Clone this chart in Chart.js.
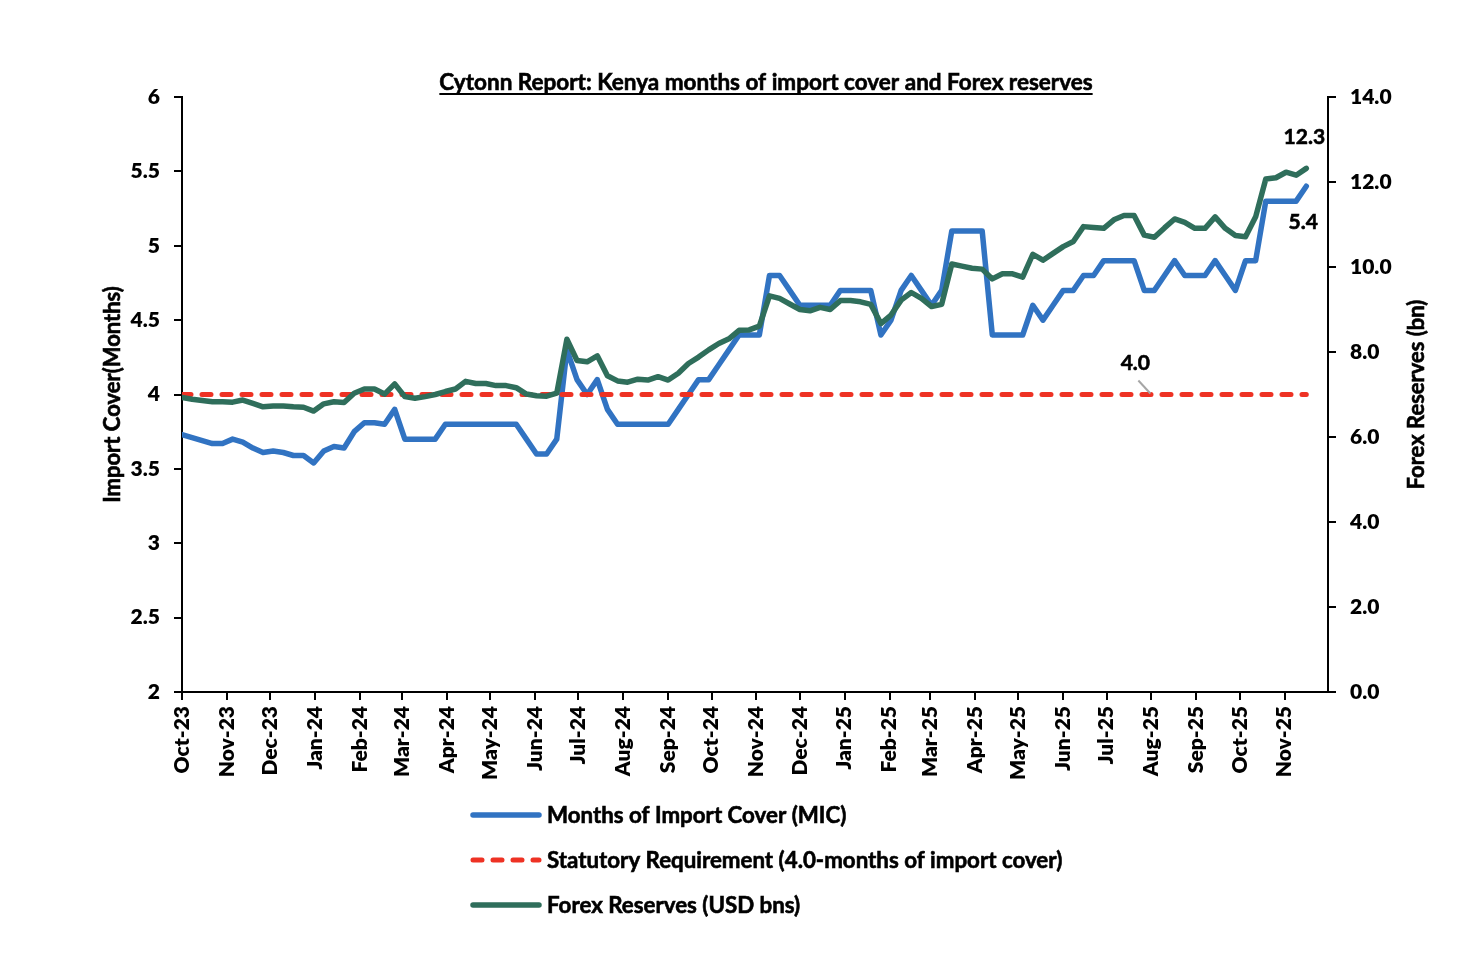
<!DOCTYPE html>
<html><head><meta charset="utf-8">
<script src="https://cdn.jsdelivr.net/npm/chart.js@4.4.1/dist/chart.umd.min.js"></script>
<style>html,body{margin:0;padding:0;background:#fff;}canvas{display:block;}</style>
</head><body>
<canvas id="c" width="1468" height="956"></canvas>
<script>
const weekDates = [
'2023-10-05','2023-10-12','2023-10-19','2023-10-26','2023-11-02','2023-11-09','2023-11-16','2023-11-23','2023-11-30',
'2023-12-07','2023-12-14','2023-12-21','2023-12-28',
'2024-01-04','2024-01-11','2024-01-18','2024-01-25','2024-02-01','2024-02-08','2024-02-15','2024-02-22','2024-02-29',
'2024-03-07','2024-03-14','2024-03-21','2024-03-28','2024-04-04','2024-04-11','2024-04-18','2024-04-25',
'2024-05-02','2024-05-09','2024-05-16','2024-05-23','2024-05-30','2024-06-06','2024-06-13','2024-06-20','2024-06-27',
'2024-07-04','2024-07-11','2024-07-18','2024-07-25','2024-08-01','2024-08-08','2024-08-15','2024-08-22','2024-08-29',
'2024-09-05','2024-09-12','2024-09-19','2024-09-26','2024-10-03','2024-10-10','2024-10-17','2024-10-24','2024-10-31',
'2024-11-07','2024-11-14','2024-11-21','2024-11-28','2024-12-05','2024-12-12','2024-12-19','2024-12-26',
'2025-01-02','2025-01-09','2025-01-16','2025-01-23','2025-01-30','2025-02-06','2025-02-13','2025-02-20','2025-02-27',
'2025-03-06','2025-03-13','2025-03-20','2025-03-27','2025-04-03','2025-04-10','2025-04-17','2025-04-24',
'2025-05-01','2025-05-08','2025-05-15','2025-05-22','2025-05-29','2025-06-05','2025-06-12','2025-06-19','2025-06-26',
'2025-07-03','2025-07-10','2025-07-17','2025-07-24','2025-07-31','2025-08-07','2025-08-14','2025-08-21','2025-08-28',
'2025-09-04','2025-09-11','2025-09-18','2025-09-25','2025-10-02','2025-10-09','2025-10-16','2025-10-23','2025-10-30',
'2025-11-06','2025-11-13','2025-11-20'
];
const micValues = [
3.73,3.71,3.69,3.67,3.67,3.70,3.68,3.64,3.61,3.62,3.61,3.59,3.59,3.54,3.62,3.65,3.64,3.75,3.81,3.81,
3.80,3.90,3.70,3.70,3.70,3.70,3.80,3.80,3.80,3.80,3.80,3.80,3.80,3.80,3.70,3.60,3.60,3.70,4.30,4.10,
4.00,4.10,3.90,3.80,3.80,3.80,3.80,3.80,3.80,3.90,4.00,4.10,4.10,4.20,4.30,4.40,4.40,4.40,4.80,4.80,
4.70,4.60,4.60,4.60,4.60,4.70,4.70,4.70,4.70,4.40,4.50,4.70,4.80,4.70,4.60,4.70,5.10,5.10,5.10,5.10,
4.40,4.40,4.40,4.40,4.60,4.50,4.60,4.70,4.70,4.80,4.80,4.90,4.90,4.90,4.90,4.70,4.70,4.80,4.90,4.80,
4.80,4.80,4.90,4.80,4.70,4.90,4.90,5.30,5.30,5.30,5.30,5.40
];
const statutoryValues = [
4,4,4,4,4,4,4,4,4,4,4,4,4,4,4,4,4,4,4,4,4,4,4,4,4,4,4,4,4,4,4,4,4,4,4,4,4,4,4,4,
4,4,4,4,4,4,4,4,4,4,4,4,4,4,4,4,4,4,4,4,4,4,4,4,4,4,4,4,4,4,4,4,4,4,4,4,4,4,4,4,
4,4,4,4,4,4,4,4,4,4,4,4,4,4,4,4,4,4,4,4,4,4,4,4,4,4,4,4,4,4,4,4
];
const forexValues = [
6.93,6.89,6.86,6.83,6.83,6.82,6.87,6.79,6.71,6.73,6.73,6.71,6.70,6.61,6.78,6.83,6.81,7.03,7.13,7.13,
7.01,7.25,6.95,6.91,6.95,7.00,7.07,7.13,7.31,7.26,7.26,7.21,7.21,7.16,7.01,6.97,6.96,7.03,8.30,7.80,
7.77,7.91,7.44,7.32,7.29,7.36,7.34,7.42,7.34,7.50,7.73,7.88,8.05,8.20,8.31,8.51,8.52,8.61,9.32,9.26,
9.13,9.00,8.97,9.05,9.00,9.21,9.21,9.18,9.12,8.67,8.87,9.22,9.40,9.26,9.07,9.12,10.07,10.02,9.97,9.95,
9.72,9.84,9.84,9.76,10.30,10.16,10.32,10.48,10.60,10.95,10.93,10.91,11.11,11.21,11.21,10.75,10.70,10.92,11.13,11.05,
10.91,10.91,11.18,10.91,10.74,10.71,11.18,12.07,12.10,12.23,12.16,12.32
];
const tickDates = ['2023-10-05','2023-11-05','2023-12-05','2024-01-05','2024-02-05','2024-03-05','2024-04-05','2024-05-05',
'2024-06-05','2024-07-05','2024-08-05','2024-09-05','2024-10-05','2024-11-05','2024-12-05','2025-01-05','2025-02-05',
'2025-03-05','2025-04-05','2025-05-05','2025-06-05','2025-07-05','2025-08-05','2025-09-05','2025-10-05','2025-11-05'];
const tickLabels = ['Oct-23','Nov-23','Dec-23','Jan-24','Feb-24','Mar-24','Apr-24','May-24','Jun-24','Jul-24','Aug-24',
'Sep-24','Oct-24','Nov-24','Dec-24','Jan-25','Feb-25','Mar-25','Apr-25','May-25','Jun-25','Jul-25','Aug-25','Sep-25',
'Oct-25','Nov-25'];
const axisEndDate = '2025-12-05';
const seriesNames = ['Months of Import Cover (MIC)','Statutory Requirement (4.0-months of import cover)','Forex Reserves (USD bns)'];
const chartTitle = 'Cytonn Report: Kenya months of import cover and Forex reserves';
const leftAxisTitle = 'Import Cover(Months)';
const rightAxisTitle = 'Forex Reserves (bn)';

const t0 = Date.parse(weekDates[0]);
const toDay = d => Math.round((Date.parse(d) - t0) / 86400000);
const pts = arr => arr.map((v, i) => ({x: toDay(weekDates[i]), y: v}));
const tickDays = tickDates.map(toDay);

const BLUE = '#3173C2', RED = '#EE3224', GREEN = '#2F6E5B';
const FONT = 'Lato';
Chart.defaults.font.family = FONT;
Chart.defaults.font.weight = 'bold';
Chart.defaults.color = '#000';

function heavyText(ctx, s, x, y) {
  ctx.lineWidth = 0.6; ctx.strokeStyle = '#000';
  ctx.strokeText(s, x, y); ctx.fillText(s, x, y);
}

const extras = {
  id: 'extras',
  afterDraw(chart) {
    const ctx = chart.ctx;
    const area = chart.chartArea;
    ctx.save();
    ctx.fillStyle = '#000';
    // title
    ctx.font = 'bold 22.5px ' + FONT;
    ctx.textAlign = 'center';
    ctx.textBaseline = 'alphabetic';
    const tx = 766, ty = 90;
    heavyText(ctx, chartTitle, tx, ty);
    const tw = ctx.measureText(chartTitle).width;
    ctx.strokeStyle = '#000'; ctx.lineWidth = 2;
    ctx.beginPath(); ctx.moveTo(tx - tw/2, ty + 4); ctx.lineTo(tx + tw/2, ty + 4); ctx.stroke();
    // axis titles
    ctx.font = 'bold 22px ' + FONT;
    ctx.textBaseline = 'middle';
    ctx.save(); ctx.translate(113, (area.top + area.bottom)/2); ctx.rotate(-Math.PI/2);
    heavyText(ctx, leftAxisTitle, 0, 0); ctx.restore();
    ctx.save(); ctx.translate(1417, (area.top + area.bottom)/2); ctx.rotate(-Math.PI/2);
    heavyText(ctx, rightAxisTitle, 0, 0); ctx.restore();
    // data labels
    ctx.font = 'bold 21px ' + FONT;
    const fx = chart.getDatasetMeta(2).data;
    const lastF = fx[fx.length - 1];
    heavyText(ctx, forexValues[forexValues.length-1].toFixed(1), lastF.x - 2, lastF.y - 31);
    const mx = chart.getDatasetMeta(0).data;
    const lastM = mx[mx.length - 1];
    heavyText(ctx, micValues[micValues.length-1].toFixed(1), lastM.x - 3, lastM.y + 36);
    const sx = chart.getDatasetMeta(1).data;
    const sp = sx[96];
    heavyText(ctx, statutoryValues[96].toFixed(1), sp.x - 19, sp.y - 31);
    ctx.strokeStyle = '#A6A6A6'; ctx.lineWidth = 2;
    ctx.beginPath(); ctx.moveTo(sp.x - 16, sp.y - 14); ctx.lineTo(sp.x - 4, sp.y - 1); ctx.stroke();
    // legend
    const ds = chart.data.datasets;
    const rows = [815, 860, 905];
    ctx.font = 'bold 22.3px ' + FONT;
    ctx.textAlign = 'left';
    ds.forEach((d, i) => {
      const y = rows[i];
      ctx.strokeStyle = d.borderColor; ctx.lineWidth = d.borderWidth;
      ctx.lineCap = 'round';
      ctx.setLineDash(d.borderDash || []);
      ctx.beginPath(); ctx.moveTo(473, y); ctx.lineTo(539, y); ctx.stroke();
      ctx.setLineDash([]);
      ctx.lineCap = 'butt';
      ctx.fillStyle = '#000';
      heavyText(ctx, d.label, 547, y + 1);
    });
    ctx.restore();
  }
};

new Chart(document.getElementById('c'), {
  type: 'line',
  data: {
    datasets: [
      {label: seriesNames[0], data: pts(micValues), yAxisID: 'yL', borderColor: BLUE, borderWidth: 5.5, pointRadius: 0, tension: 0, order: 3, borderJoinStyle: 'round', borderCapStyle: 'round'},
      {label: seriesNames[1], data: pts(statutoryValues), yAxisID: 'yL', borderColor: RED, borderWidth: 5, borderDash: [9, 11], borderCapStyle: 'round', pointRadius: 0, tension: 0, order: 2},
      {label: seriesNames[2], data: pts(forexValues), yAxisID: 'yR', borderColor: GREEN, borderWidth: 5.5, pointRadius: 0, tension: 0, order: 1, borderJoinStyle: 'round', borderCapStyle: 'round'}
    ]
  },
  options: {
    responsive: false,
    animation: false,
    devicePixelRatio: 1,
    layout: {padding: {top: 97, left: 0, right: 0, bottom: 0}},
    plugins: {legend: {display: false}, tooltip: {enabled: false}, title: {display: false}},
    scales: {
      x: {
        type: 'linear', min: 0, max: toDay(axisEndDate),
        afterBuildTicks: s => { s.ticks = tickDays.map(v => ({value: v})); },
        afterFit: s => { s.height = 264; },
        ticks: {autoSkip: false, maxRotation: 90, minRotation: 90, padding: 6,
          font: {size: 21, weight: 800}, color: '#000',
          callback: (v, i) => tickLabels[i]},
        grid: {drawOnChartArea: false, drawTicks: true, tickLength: 8, color: '#000', lineWidth: 2},
        border: {display: true, color: '#000', width: 2}
      },
      yL: {
        position: 'left', min: 2, max: 6,
        afterFit: s => { s.width = 182; },
        ticks: {stepSize: 0.5, padding: 14, font: {size: 21, weight: 800}, color: '#000',
          callback: v => String(v)},
        grid: {drawOnChartArea: false, drawTicks: true, tickLength: 8, color: '#000', lineWidth: 2},
        border: {display: true, color: '#000', width: 2}
      },
      yR: {
        position: 'right', min: 0, max: 14,
        afterFit: s => { s.width = 140; },
        ticks: {stepSize: 2, padding: 14, font: {size: 21, weight: 800}, color: '#000',
          callback: v => v.toFixed(1)},
        grid: {drawOnChartArea: false, drawTicks: true, tickLength: 8, color: '#000', lineWidth: 2},
        border: {display: true, color: '#000', width: 2}
      }
    }
  },
  plugins: [extras]
});
</script>
</body></html>
